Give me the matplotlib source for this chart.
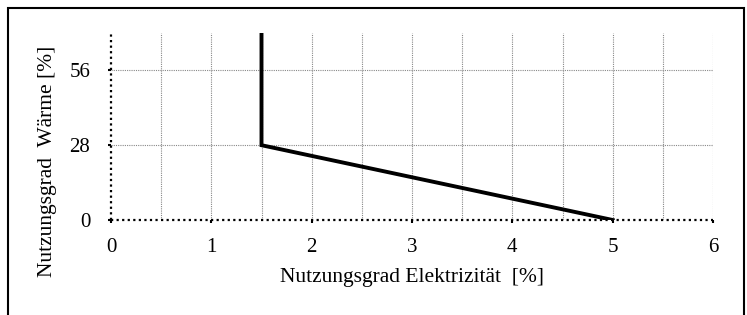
import matplotlib.pyplot as plt
import numpy as np
from matplotlib.patches import Rectangle

# Kennlinie: Nutzungsgrad Elektrizität vs. Wärme
elec = [1.5, 1.5, 5.0]
heat = [70, 28, 0]

x_ticks = [0, 1, 2, 3, 4, 5, 6]
y_ticks = [0, 28, 56]

plt.rcParams['font.family'] = ['Liberation Serif', 'DejaVu Serif']

fig = plt.figure(figsize=(7.47, 3.15), dpi=100)
ax = fig.add_axes([111 / 747, 95 / 315, 602 / 747, 187 / 315])

# grid lines
for xv in np.arange(0.5, 6.01, 0.5):
    ax.plot([xv, xv], [0, 70], color='#888888', lw=0.8, ls=(0, (1, 1)), zorder=1)
for yv in y_ticks[1:]:
    ax.plot([0, 6], [yv, yv], color='#888888', lw=0.8, ls=(0, (1, 1)), zorder=1)

# dotted axis lines
ax.plot([0, 6], [0, 0], color='black', lw=1.6, ls=(0, (1, 1.5)), clip_on=False, zorder=2)
ax.plot([0, 0], [0, 70], color='black', lw=1.6, ls=(0, (1, 1.5)), clip_on=False, zorder=2)

ax.plot(elec, heat, color='black', lw=2.8, solid_joinstyle='miter', zorder=3)

ax.set_xlim(0, 6)
ax.set_ylim(0, 70)
ax.set_xticks(x_ticks)
ax.set_yticks(y_ticks)
for s in ax.spines.values():
    s.set_visible(False)
ax.tick_params(axis='both', length=2, width=1.5, color='black', labelsize=15)
ax.tick_params(axis='x', pad=11)
ax.tick_params(axis='y', pad=13)

ax.set_xlabel("Nutzungsgrad Elektrizität  [%]", fontsize=15.5, labelpad=8)
ax.set_ylabel("Nutzungsgrad  Wärme [%]", fontsize=15.5)
ax.yaxis.set_label_coords(-0.09, 0.313)

# outer frame
fig.patches.append(Rectangle((8 / 747, -0.05), 736 / 747, 1.05 - 8 / 315,
                             transform=fig.transFigure, fill=False,
                             edgecolor='black', lw=1.5))

fig.savefig("out.png", dpi=100)
